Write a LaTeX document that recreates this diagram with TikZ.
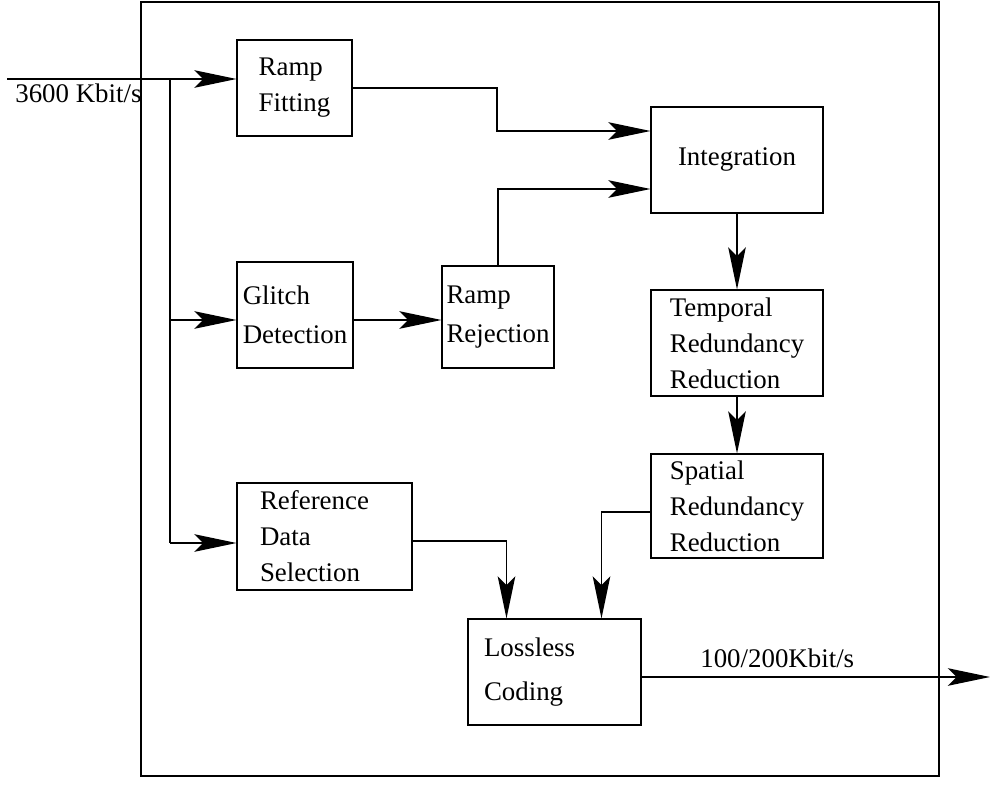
\documentclass[tikz,border=0pt]{standalone}
\usepackage{fontspec}
\setmainfont{Liberation Serif}
\usetikzlibrary{arrows.meta,calc}
\tikzset{
 blk/.style={draw, line width=0.6pt, align=left, inner sep=0pt,
   font=\fontsize{15.3}{20.5}\selectfont},
 lbl/.style={inner sep=0pt, font=\fontsize{15.3}{20.5}\selectfont},
 flow/.style={line width=1.1pt, -{Stealth[length=24pt,width=10pt,inset=5pt]}},
 wire/.style={line width=1.1pt}
}

\begin{document}
\begin{tikzpicture}[x=0.02cm,y=-0.02cm]
\useasboundingbox (0,0) rectangle (990,787);

% outer frame
\draw[line width=0.9pt] (141,2) rectangle (939,776);

% processing blocks
\node[blk, minimum width=2.3cm, minimum height=1.92cm] (fit) at (294.5,88) {Ramp\\Fitting};
\node[blk, minimum width=2.32cm, minimum height=2.12cm] (glitch) at (295,315) {Glitch\\[2pt]Detection};
\node[blk, minimum width=2.24cm, minimum height=2.04cm] (reject) at (498,317) {Ramp\\[2pt]Rejection};
\node[blk, text width=2.58cm, inner xsep=0.46cm, minimum height=2.14cm] (ref) at (324.5,536.5) {Reference\\Data\\Selection};
\node[blk, minimum width=3.44cm, minimum height=2.12cm] (integ) at (737,160) {Integration};
\node[blk, minimum width=3.44cm, minimum height=2.12cm] (temporal) at (737,343) {Temporal\\Redundancy\\Reduction};
\node[blk, minimum width=3.44cm, minimum height=2.08cm] (spatial) at (737,506) {Spatial\\Redundancy\\Reduction};
\node[blk, text width=2.82cm, inner xsep=0.32cm, minimum height=2.12cm] (lossless) at (554.5,672) {Lossless\\[5pt]Coding};

% input and output points
\coordinate (in) at (7,79);
\coordinate (tap1) at (170,79);
\coordinate (tap2) at (170,320);
\coordinate (tap3) at (170,543);
\coordinate (j1) at (497,131);
\coordinate (j2) at (497,189);
\coordinate (out) at (990,677);

% data flow
\draw[flow] (in) -- (in -| fit.west);
\draw[wire] (tap1) -- (tap3);
\draw[flow] (tap2) -- (tap2 -| glitch.west);
\draw[flow] (tap3) -- (tap3 -| ref.west);
\draw[flow] (glitch.east |- tap2) -- (tap2 -| reject.west);
\draw[flow] (fit.east) -| (j1) -- (j1 -| integ.west);
\draw[flow] (reject.north) |- (j2 -| integ.west);
\draw[flow] (integ) -- (temporal);
\draw[flow] (temporal) -- (spatial);
\draw[flow] ([yshift=-2.5pt]ref.east) -| ($(lossless.north west)+(39,0)$);
\draw[flow] ([yshift=-3.4pt]spatial.west) -| ($(lossless.north west)+(134,0)$);
\draw[flow] (lossless.east |- out) -- (out);

% rates
\node[lbl, anchor=base west] (inrate) at (15,103) {3600 Kbit/s};
\node[lbl, anchor=base west] (outrate) at (700,667) {100/200Kbit/s};

\end{tikzpicture}
\end{document}
